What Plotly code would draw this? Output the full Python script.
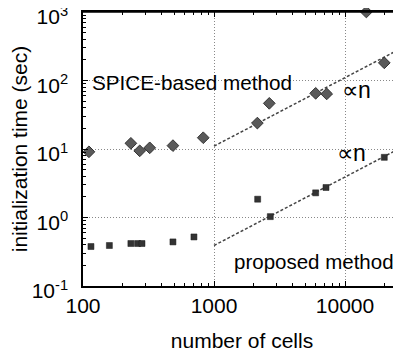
import numpy as np
import plotly.graph_objects as go

# SPICE-based method (diamonds)
spice_n = [111, 232, 271, 323, 486, 828, 2143, 2643, 5970, 7250, 14550, 19950]
spice_t = [9.1, 12.1, 9.4, 10.4, 11.2, 14.6, 23.9, 46.4, 65, 63.7, 1000, 181]

# proposed method (squares)
prop_n = [115, 159, 232, 261, 282, 486, 703, 2154, 2690, 5970, 7160, 19950]
prop_t = [0.377, 0.39, 0.417, 0.417, 0.417, 0.44, 0.52, 1.85, 1.03, 2.29, 2.74, 7.56]

# proportional-to-n guide lines
fit_n = [1000, 26800]
spice_coef = 0.011
prop_coef = 0.00039

ytick_vals = [0.1, 1, 10, 100, 1000]
ytick_text = ["10<sup>-1</sup>", "10<sup>0</sup>", "10<sup>1</sup>", "10<sup>2</sup>", "10<sup>3</sup>"]
xtick_vals = [100, 1000, 10000]
xtick_text = ["100", "1000", "10000"]
x_minor = [m * 10 ** e for e in (2, 3, 4) for m in range(2, 10)]
y_minor = [m * 10.0 ** e for e in (-1, 0, 1, 2) for m in range(2, 10)]

FONT = "Liberation Sans, Arial, Helvetica, sans-serif"
XR = [2, 2 + 318 / 131]
YR = [-1, 3]

fig = go.Figure()
fig.add_trace(go.Scatter(x=fit_n, y=[spice_coef * v for v in fit_n], mode="lines",
                         line=dict(color="#444444", width=1.5, dash="3px,2px"), showlegend=False))
fig.add_trace(go.Scatter(x=fit_n, y=[prop_coef * v for v in fit_n], mode="lines",
                         line=dict(color="#444444", width=1.5, dash="3px,2px"), showlegend=False))
fig.add_trace(go.Scatter(x=spice_n, y=spice_t, mode="markers", cliponaxis=False,
                         marker=dict(symbol="diamond", size=9, color="#5a5a5a",
                                     line=dict(color="#333333", width=1)), showlegend=False))
fig.add_trace(go.Scatter(x=prop_n, y=prop_t, mode="markers",
                         marker=dict(symbol="square", size=6, color="#333333",
                                     line=dict(color="#1a1a1a", width=0.5)), showlegend=False))
# invisible helpers so the tick-only overlay axes are drawn
for xa, ya in (("x2", "y"), ("x3", "y"), ("x4", "y"), ("x", "y2")):
    fig.add_trace(go.Scatter(x=fit_n, y=[prop_coef * v for v in fit_n], xaxis=xa, yaxis=ya,
                             mode="lines", opacity=0, hoverinfo="skip", showlegend=False))

fig.add_annotation(x=np.log10(113), y=1.974, text="SPICE-based method", showarrow=False,
                   xanchor="left", yanchor="middle", font=dict(family=FONT, size=20.7, color="black"))
fig.add_annotation(x=3.965, y=1.857, text="∝n", showarrow=False,
                   xanchor="left", yanchor="middle", font=dict(family=FONT, size=23, color="black"))
fig.add_annotation(x=3.922, y=0.944, text="∝n", showarrow=False,
                   xanchor="left", yanchor="middle", font=dict(family=FONT, size=23, color="black"))
fig.add_annotation(x=3.137, y=-0.645, text="proposed method", showarrow=False,
                   xanchor="left", yanchor="middle", font=dict(family=FONT, size=20.5, color="black"))

fig.update_xaxes(type="log", range=XR, tickvals=xtick_vals, ticktext=xtick_text, automargin=False,
                 showline=True, linecolor="black", linewidth=1.5,
                 ticks="inside", ticklen=5, tickcolor="black",
                 showgrid=True, gridcolor="#888888", griddash="1px,2px", gridwidth=1,
                 zeroline=False,
                 tickfont=dict(family=FONT, size=21, color="black"),
                 title=dict(text="number of cells", font=dict(family=FONT, size=21, color="black"),
                            standoff=20))
fig.update_yaxes(type="log", range=YR, tickvals=ytick_vals, ticktext=ytick_text, automargin=False,
                 showline=True, linecolor="black", linewidth=1.5, mirror=False,
                 ticks="inside", ticklen=5, tickcolor="black",
                 showgrid=True, gridcolor="#888888", griddash="1px,2px", gridwidth=1,
                 zeroline=False, ticklabelstandoff=9, ticklabelshift=5, ticklabeloverflow="allow",
                 tickfont=dict(family=FONT, size=21, color="black"),
                 title=dict(text="initialization time (sec)", font=dict(family=FONT, size=21, color="black"),
                            standoff=2))

tick_only = dict(type="log", range=XR, overlaying="x", anchor="y", showticklabels=False,
                 showgrid=False, zeroline=False, tickcolor="black", ticks="inside", automargin=False)
fig.update_layout(
    xaxis2=dict(tick_only, side="bottom", tickvals=x_minor, ticklen=3, showline=False),
    xaxis3=dict(tick_only, side="top", tickvals=xtick_vals, ticklen=5, showline=True,
                linecolor="black", linewidth=1.5),
    xaxis4=dict(tick_only, side="top", tickvals=x_minor, ticklen=3, showline=False),
    yaxis2=dict(type="log", range=YR, overlaying="y", anchor="x", side="left", showticklabels=False,
                showgrid=False, zeroline=False, tickcolor="black", ticks="inside", automargin=False,
                tickvals=y_minor, ticklen=3, showline=False),
)
# top frame line
fig.add_shape(type="line", xref="paper", yref="paper", x0=0, x1=1, y0=1, y1=1,
              line=dict(color="black", width=1.5), layer="above")

# the page body has an 8px margin, so the figure is shifted by 8px
fig.update_layout(width=393, height=344, margin=dict(l=75, r=0, t=4, b=66),
                  plot_bgcolor="white", paper_bgcolor="white", showlegend=False)

fig.write_html("out.html")
